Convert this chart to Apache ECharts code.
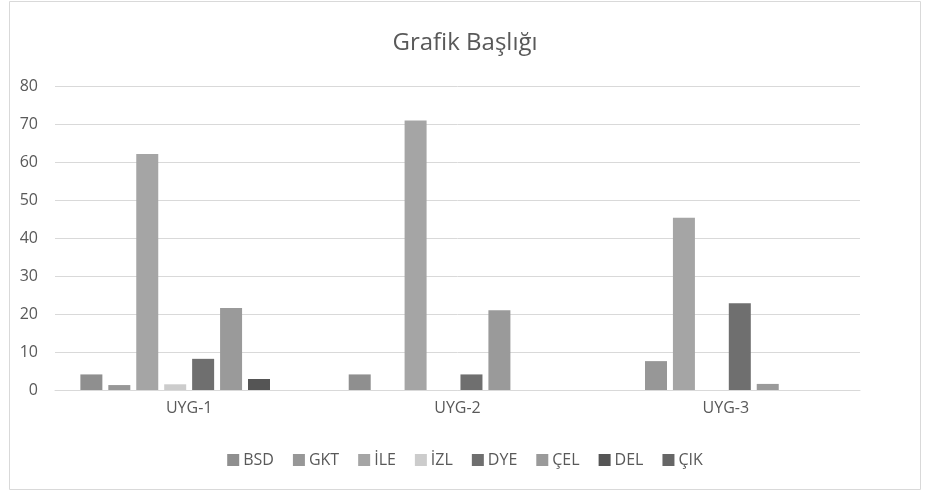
<!DOCTYPE html>
<html>
<head>
<meta charset="utf-8">
<script src="https://cdn.jsdelivr.net/npm/echarts@6/dist/echarts.min.js"></script>
<style>
	html, body { margin: 0; padding: 0; background: #fff; }
	#chart { width: 930px; height: 496px; }
</style>
</head>
<body>
<div id="chart"></div>
<script>
// categories and series
const categories = ['UYG-1', 'UYG-2', 'UYG-3'];
const seriesNames = ['BSD', 'GKT', 'İLE', 'İZL', 'DYE', 'ÇEL', 'DEL', 'ÇIK'];
const bsd = [4.1, 4.1, 0];
const gkt = [1.3, 0, 7.6];
const ile = [62.1, 70.9, 45.3];
const izl = [1.5, 0, 0];
const dye = [8.2, 4.1, 22.8];
const cel = [21.6, 21.0, 1.6];
const del = [2.9, 0, 0];
const cik = [0, 0, 0];
const yTicks = [0, 10, 20, 30, 40, 50, 60, 70, 80];

const seriesValues = [bsd, gkt, ile, izl, dye, cel, del, cik];
const colors = ['#8f8f8f', '#979797', '#a5a5a5', '#cccccc', '#6f6f6f', '#9a9a9a', '#555555', '#666666'];
const fontFamily = '"Open Sans", "Noto Sans", sans-serif';

const chart = echarts.init(document.getElementById('chart'));

const option = {
	animation: false,
	textStyle: { fontFamily: fontFamily },
	graphic: [{
		type: 'rect',
		shape: { x: 9.5, y: 1.5, width: 911, height: 488 },
		style: { fill: 'none', stroke: '#d9d9d9', lineWidth: 1 },
		silent: true
	}],
	title: {
		text: 'Grafik Başlığı',
		left: 'center',
		top: 26,
		textStyle: { fontSize: 24, fontWeight: 'normal', color: '#595959', fontFamily: fontFamily }
	},
	legend: {
		bottom: 23,
		left: 'center',
		itemWidth: 12,
		itemHeight: 12,
		itemGap: 19,
		icon: 'rect',
		textStyle: { fontSize: 16, color: '#595959', fontFamily: fontFamily, padding: [0, 0, 0, -1] },
		data: seriesNames
	},
	grid: {
		left: 55,
		right: 70,
		top: 86,
		bottom: 106
	},
	xAxis: {
		type: 'category',
		data: categories,
		axisTick: { show: false },
		axisLine: { lineStyle: { color: '#d9d9d9', width: 1 } },
		axisLabel: { fontSize: 16, color: '#595959', margin: 10 }
	},
	yAxis: {
		type: 'value',
		min: yTicks[0],
		max: yTicks[yTicks.length - 1],
		interval: 10,
		axisLine: { show: false },
		axisTick: { show: false },
		axisLabel: { fontSize: 16, color: '#595959', margin: 17 },
		splitLine: { lineStyle: { color: '#d9d9d9', width: 1 } }
	},
	series: seriesNames.map((name, i) => ({
		name: name,
		type: 'bar',
		data: seriesValues[i],
		barWidth: 22,
		barGap: '27%',
		itemStyle: { color: colors[i] }
	}))
};

chart.setOption(option);

window.addEventListener('resize', () => {
	chart.resize();
});
</script>
</body>
</html>
